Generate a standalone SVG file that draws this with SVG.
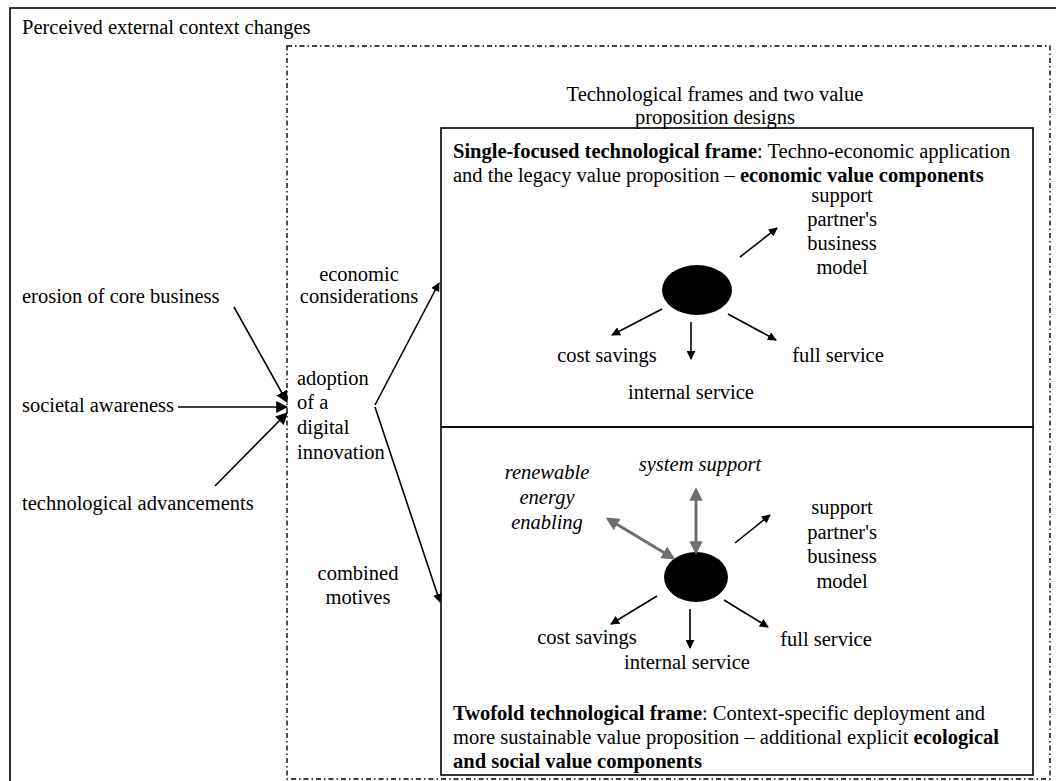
<svg xmlns="http://www.w3.org/2000/svg" width="1056" height="781" viewBox="0 0 1056 781" font-family="'Liberation Serif', 'Times New Roman', 'DejaVu Serif', serif" font-size="20.5">
<defs>
<style>
.c{text-anchor:middle}
.b{font-weight:bold}
.i{font-style:italic}
.k{stroke:#000;stroke-width:1.6;fill:none}
.g{stroke:#6e6e6e;stroke-width:3;fill:none}
</style>
<marker id="ah" viewBox="0 0 10 10" refX="9" refY="5" markerWidth="9" markerHeight="9" markerUnits="userSpaceOnUse" orient="auto"><path d="M0,0 L10,5 L0,10 z" fill="#000"/></marker>
<marker id="ahb" viewBox="0 0 10 10" refX="9" refY="5" markerWidth="12" markerHeight="12" markerUnits="userSpaceOnUse" orient="auto"><path d="M0,0 L10,5 L0,10 z" fill="#000"/></marker>
<marker id="ag" viewBox="0 0 10 10" refX="8" refY="5" markerWidth="4.5" markerHeight="4.5" orient="auto-start-reverse"><path d="M0,0 L10,5 L0,10 z" fill="#6e6e6e"/></marker>
</defs>
<rect width="1056" height="781" fill="#fff"/>
<g id="outer-context">
<rect x="10" y="8" width="1060" height="800" fill="none" stroke="#000" stroke-width="1.6"/>
<text x="22" y="34">Perceived external context changes</text>
</g>
<g id="frames-area">
<rect x="287" y="46" width="763" height="733" fill="none" stroke="#000" stroke-width="1.4" stroke-dasharray="5,3,1.5,3"/>
<text class="c" x="715" y="101">Technological frames and two value</text>
<text class="c" x="715" y="124">proposition designs</text>
</g>
<g id="single-frame">
<rect x="441" y="128" width="592" height="299" fill="none" stroke="#000" stroke-width="1.6"/>
<text x="453" y="158"><tspan class="b">Single-focused technological frame</tspan>: Techno-economic application</text>
<text x="453" y="182">and the legacy value proposition – <tspan class="b">economic value components</tspan></text>
<ellipse cx="697" cy="290" rx="35" ry="25" fill="#000"/>
<text class="c" x="842" y="202">support</text>
<text class="c" x="842" y="226">partner's</text>
<text class="c" x="842" y="250">business</text>
<text class="c" x="842" y="274">model</text>
<text class="c" x="607" y="362">cost savings</text>
<text class="c" x="691" y="399">internal service</text>
<text class="c" x="838" y="362">full service</text>
</g>
<g id="twofold-frame">
<rect x="441" y="427" width="592" height="348" fill="none" stroke="#000" stroke-width="1.6"/>
<ellipse cx="696" cy="577" rx="32" ry="25" fill="#000"/>
<text class="c i" x="700" y="471">system support</text>
<text class="c i" x="547" y="479">renewable</text>
<text class="c i" x="547" y="504">energy</text>
<text class="c i" x="547" y="529">enabling</text>
<text class="c" x="842" y="514">support</text>
<text class="c" x="842" y="539">partner's</text>
<text class="c" x="842" y="563">business</text>
<text class="c" x="842" y="588">model</text>
<text class="c" x="587" y="644">cost savings</text>
<text class="c" x="687" y="669">internal service</text>
<text class="c" x="826" y="646">full service</text>
<text x="453" y="720"><tspan class="b">Twofold technological frame</tspan>: Context-specific deployment and</text>
<text x="453" y="744">more sustainable value proposition – additional explicit <tspan class="b">ecological</tspan></text>
<text x="453" y="768" class="b">and social value components</text>
</g>
<g id="drivers">
<text x="22" y="303">erosion of core business</text>
<text x="22" y="412">societal awareness</text>
<text x="22" y="510">technological advancements</text>
</g>
<g id="adoption">
<text x="297" y="385">adoption</text>
<text x="297" y="409">of a</text>
<text x="297" y="434">digital</text>
<text x="297" y="459">innovation</text>
<text class="c" x="359" y="281">economic</text>
<text class="c" x="359" y="303">considerations</text>
<text class="c" x="358" y="580">combined</text>
<text class="c" x="358" y="604">motives</text>
</g>
<g id="connectors">
<line class="k" x1="234" y1="307" x2="287" y2="402" marker-end="url(#ahb)"/>
<line class="k" x1="178" y1="407" x2="287" y2="407" marker-end="url(#ahb)"/>
<line class="k" x1="215" y1="486" x2="287" y2="413" marker-end="url(#ahb)"/>
<line class="k" x1="375" y1="405" x2="439" y2="283" marker-end="url(#ah)"/>
<line class="k" x1="375" y1="407" x2="440" y2="602" marker-end="url(#ah)"/>
<line class="k" x1="740" y1="257" x2="777" y2="228" marker-end="url(#ah)"/>
<line class="k" x1="691" y1="322" x2="691" y2="359" marker-end="url(#ah)"/>
<line class="k" x1="728" y1="314" x2="776" y2="340" marker-end="url(#ah)"/>
<line class="k" x1="662" y1="309" x2="612" y2="335" marker-end="url(#ah)"/>
<line class="k" x1="735" y1="543" x2="770" y2="515" marker-end="url(#ah)"/>
<line class="k" x1="724" y1="600" x2="768" y2="627" marker-end="url(#ah)"/>
<line class="k" x1="657" y1="596" x2="611" y2="624" marker-end="url(#ah)"/>
<line class="k" x1="690" y1="609" x2="690" y2="648" marker-end="url(#ah)"/>
<line class="g" x1="608" y1="519" x2="673" y2="558" marker-start="url(#ag)" marker-end="url(#ag)"/>
<line class="g" x1="696" y1="490" x2="696" y2="552" marker-start="url(#ag)" marker-end="url(#ag)"/>
</g>
</svg>
